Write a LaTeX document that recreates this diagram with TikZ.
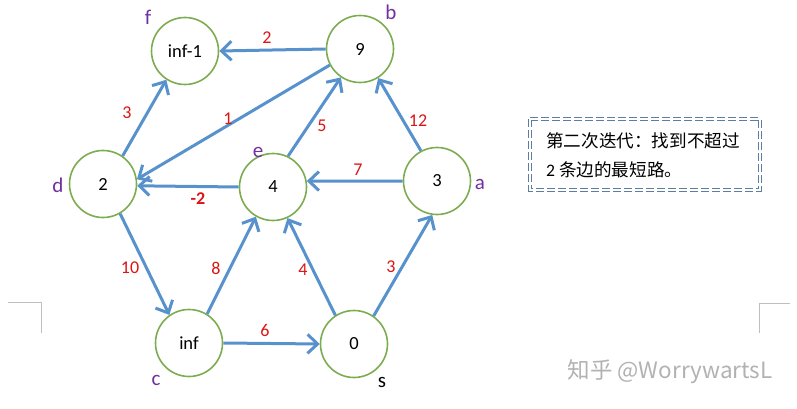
\documentclass[tikz,border=0pt]{standalone}
\usepackage{fontspec}
\setmainfont{Carlito}
\newfontfamily\cjk{Noto Sans CJK SC}
\usetikzlibrary{arrows.meta}
\definecolor{vgreen}{RGB}{124,172,80}
\definecolor{eblue}{RGB}{88,146,204}
\definecolor{lpurple}{RGB}{112,48,160}
\definecolor{wred}{RGB}{220,20,20}
\definecolor{boxblue}{RGB}{95,125,160}
\begin{document}
\begin{tikzpicture}[x=1pt,y=-1pt,
  vert/.style={circle, draw=vgreen, line width=1.6pt, minimum size=67pt, inner sep=0pt, font=\fontsize{18.5}{18.5}\selectfont},
  edge/.style={draw=eblue, line width=3pt, -{Straight Barb[length=10pt,width=19pt,line width=3pt]}},
  wt/.style={text=wred, font=\fontsize{18}{18}\selectfont, inner sep=0pt},
  vlab/.style={text=lpurple, font=\fontsize{21}{21}\selectfont, inner sep=0pt},
  corner/.style={draw=black!25, line width=0.8pt}]
\useasboundingbox (0,0) rectangle (797,409);
% vertices
\node[vert] (f) at (185,51) {inf-1};
\node[vert] (b) at (360,49) {9};
\node[vert] (d) at (103,184) {2};
\node[vert] (e) at (273,187) {4};
\node[vert] (a) at (437,181) {3};
\node[vert] (c) at (189,343) {inf};
\node[vert] (s) at (354,344) {0};
% vertex labels
\node[vlab] (lf) at (148,17) {f};
\node[vlab] (lb) at (391,12) {b};
\node[vlab] (ld) at (58,185) {d};
\node[vlab] (le) at (258,152) {e};
\node[vlab] (la) at (480,184) {a};
\node[vlab] (lc) at (156,380) {c};
\node[vlab, text=black] (ls) at (382,382) {s};
% edges
\draw[edge] (b.180) -- (f.0);
\draw[edge] (d.55) -- (f.237);
\draw[edge] (b.208) -- (d.8);
\draw[edge] (e.64) -- (b.236);
\draw[edge] (a.180) -- (e.10);
\draw[edge] (a.118) -- (b.302);
\draw[edge] (e.180) -- (d.357);
\draw[edge] (d.300) -- (c.125);
\draw[edge] (c.58) -- (e.240);
\draw[edge] (s.123) -- (e.295);
\draw[edge] (s.55) -- (a.262);
\draw[edge] (c.0) -- (s.180);
% weights
\node[wt] (w1) at (267,38) {2};
\node[wt] (w2) at (127,113) {3};
\node[wt] (w3) at (228,119) {1};
\node[wt] (w4) at (322,126) {5};
\node[wt] (w5) at (358,170) {7};
\node[wt] (w6) at (418,121) {12};
\node[wt, font=\fontsize{18}{18}\selectfont\bfseries] (w7) at (198,199) {-2};
\node[wt] (w8) at (130,268) {10};
\node[wt] (w9) at (216,268) {8};
\node[wt] (w10) at (303,270) {4};
\node[wt] (w11) at (391,267) {3};
\node[wt] (w12) at (265,330) {6};
% text box
\draw[draw=boxblue, line width=0.9pt, double=white, double distance=1.8pt, dash pattern=on 8pt off 3pt] (530,119) rectangle (760,190);
\node[anchor=west, inner sep=0pt, align=left, font=\cjk\fontsize{17.6}{29}\selectfont] (note) at (546,155) {第二次迭代：找到不超过\\{\rmfamily 2} 条边的最短路。};
% corner marks
\draw[corner] (8,302) -- (41,302) -- (41,333);
\draw[corner] (790,303) -- (759,303) -- (759,333);
% watermark
\node[text=black!30, font=\cjk\fontsize{22.5}{22.5}\selectfont, inner sep=0pt] (wm) at (670,372) {知乎 @WorrywartsL};
\end{tikzpicture}
\end{document}
